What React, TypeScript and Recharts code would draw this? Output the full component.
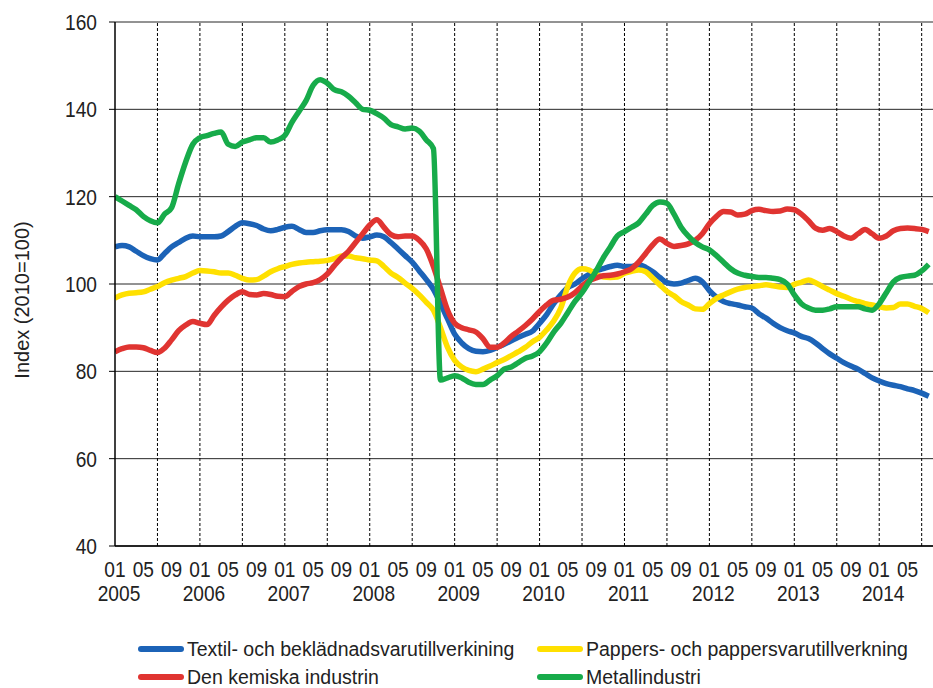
import React from "react";
import {
  LineChart,
  Line,
  XAxis,
  YAxis,
  CartesianGrid,
  ReferenceLine,
} from "recharts";

const FONT = "'Liberation Sans', Arial, sans-serif";

// month index 0 = 2005-01
const years = ["2005", "2006", "2007", "2008", "2009", "2010", "2011", "2012", "2013", "2014"];
const monthTicks = ["01", "05", "09"];

const textil = [
  108.5, 108.8, 108.5, 107.5, 106.5, 105.8, 105.5, 107, 108.5, 109.5, 110.5, 111,
  110.8, 110.8, 110.8, 111, 112, 113.2, 114, 113.8, 113.4, 112.6, 112.2, 112.5,
  113, 113.2, 112.5, 111.8, 111.8, 112.2, 112.4, 112.4, 112.4, 112, 111, 110.5,
  110.8, 111.2, 110.8, 109.5, 108, 106.5, 105, 103, 101, 98.8, 95.5, 92,
  88.5, 86.5, 85.2, 84.6, 84.5, 84.8, 85.5, 86.2, 87, 87.8, 88.5, 89.2,
  91, 93, 95.5, 97.5, 99.2, 100, 101.2, 102.2, 103, 103.5, 104, 104.3,
  104, 104, 104.4, 103.8, 102.8, 101.5, 100.3, 100, 100.2, 100.8, 101.3, 100.5,
  98.5, 97, 96, 95.5, 95.2, 94.8, 94.5, 93.2, 92.2, 91, 90, 89.3,
  88.8, 88, 87.5, 86.5, 85.2, 84, 83, 82, 81.2, 80.5, 79.5, 78.5,
  77.8, 77.2, 76.8, 76.5, 76, 75.6, 75, 74.3,
];

const pappers = [
  96.8, 97.5, 97.9, 98, 98.2, 98.8, 99.4, 100.3, 100.9, 101.3, 101.7, 102.5,
  103.1, 103, 102.8, 102.5, 102.5, 102, 101.3, 100.9, 101, 101.8, 102.8, 103.5,
  104, 104.5, 104.8, 105, 105.1, 105.2, 105.4, 105.8, 106.4, 106.4, 106, 105.8,
  105.5, 105.3, 104, 102.5, 101.5, 100.2, 99, 97.5, 95.8, 94, 90, 85.5,
  82.5, 81, 80.2, 79.9, 80.5, 81.2, 82, 82.7, 83.6, 84.5, 85.5, 86.8,
  87.8, 89.5, 91.5, 94.5, 99.5, 102.5, 103.5, 103.2, 102.2, 101.6, 101.5, 101.6,
  102.5, 102.9, 103.2, 102.8, 101.3, 99.8, 98.3, 97.3, 96, 95.2, 94.3, 94.2,
  95.5, 96.7, 97.5, 98.2, 98.8, 99.2, 99.4, 99.6, 99.8, 99.6, 99.3, 99.2,
  99.9, 100.4, 100.9, 100.3, 99.4, 98.6, 97.8, 97.2, 96.5, 96, 95.5, 95.2,
  94.8, 94.5, 94.6, 95.4, 95.4, 94.9, 94.4, 93.4,
];

const kemiska = [
  84.5, 85.2, 85.6, 85.6, 85.4, 84.8, 84.3, 85.3, 87.2, 89.3, 90.6, 91.4,
  91, 90.7, 92.8, 94.7, 96.3, 97.5, 98.2, 97.6, 97.5, 97.8, 97.6, 97.2,
  97.1, 98.3, 99.4, 100, 100.3, 101, 102.3, 104.2, 106, 107.5, 109.5, 111.5,
  113.5, 114.7, 113, 111.3, 110.8, 111, 111, 110, 108, 104, 99, 94,
  91, 90, 89.5, 89, 87.5, 85.5, 85.5, 86.5, 88, 89.2, 90.5, 92,
  93.7, 95.2, 96.3, 96.5, 97, 98, 99.5, 100.8, 101.4, 101.9, 102, 102.3,
  102.8, 103.5, 105, 107, 109, 110.3, 109.3, 108.6, 108.8, 109.2, 110, 111.5,
  113.8, 115.5, 116.6, 116.5, 115.8, 116, 116.8, 117.1, 116.8, 116.6, 116.7, 117.2,
  117, 116, 114.5, 112.8, 112.3, 112.7, 112, 111, 110.5, 111.5, 112.5, 111.5,
  110.5, 111, 112.2, 112.7, 112.8, 112.7, 112.5, 112,
];

const metall = [
  120, 119, 118, 117, 115.5, 114.5, 114, 116, 117.5, 123, 128, 132,
  133.5, 134, 134.5, 134.8, 132, 131.5, 132.5, 133, 133.5, 133.5, 132.5, 133,
  134, 137, 139.5, 142, 145.5, 146.8, 146, 144.5, 144, 143, 141.5, 140,
  139.8, 139, 138, 136.5, 136, 135.5, 135.7, 135, 133, 131, 78, 78.5,
  79, 78.5, 77.5, 77, 77, 78, 79, 80.5, 81, 82, 83, 83.5,
  84.5, 86.5, 89, 91, 93.5, 96, 98, 100.5, 103, 106, 108.5, 111,
  112, 113, 114, 116, 118, 118.8, 118.5, 116, 113, 111, 109.5, 108.5,
  107.8, 106.5, 105, 103.5, 102.5, 102, 101.7, 101.5, 101.5, 101.3, 101, 100,
  97.5, 95.5, 94.5, 94, 94, 94.3, 94.8, 94.8, 94.8, 94.8, 94.3, 94,
  95.5, 98, 100.5, 101.5, 101.8, 102, 103, 104.5,
];

const seriesNames = [
  "Textil- och beklädnadsvarutillverkining",
  "Pappers- och pappersvarutillverkning",
  "Den kemiska industrin",
  "Metallindustri",
];
const seriesColors = ["#1c63b7", "#ffe000", "#e03431", "#17ab4a"];

const yTicks = [40, 60, 80, 100, 120, 140, 160];

const data = textil.map((v, i) => ({
  m: i,
  textil: v,
  pappers: pappers[i],
  kemiska: kemiska[i],
  metall: metall[i],
}));

const labelTicks = data.filter((d) => d.m % 4 === 0).map((d) => d.m);
const halfYearLines = data.filter((d) => d.m > 0 && d.m % 6 === 0).map((d) => d.m);

// the original uses a narrow face; squeeze the regular one a bit
const SQUEEZE = 0.87;

function NarrowText({ x, y, anchor, size, children }: any) {
  return (
    <text
      transform={`translate(${x},${y}) scale(${SQUEEZE},1)`}
      textAnchor={anchor}
      fontSize={size}
      fill="#222"
      fontFamily={FONT}
    >
      {children}
    </text>
  );
}

function MonthTick(props: any) {
  const { x, y, payload } = props;
  const m = payload.value as number;
  const label = monthTicks[(m % 12) / 4];
  const yr = m % 12 === 0 ? years[m / 12] : null;
  return (
    <g>
      <NarrowText x={x} y={y + 23} anchor="middle" size={22}>
        {label}
      </NarrowText>
      {yr && (
        <NarrowText x={x + 4} y={y + 47} anchor="middle" size={22}>
          {yr}
        </NarrowText>
      )}
    </g>
  );
}

function ValueTick(props: any) {
  const { x, y, payload } = props;
  return (
    <NarrowText x={x} y={y + 8} anchor="end" size={22}>
      {payload.value}
    </NarrowText>
  );
}

function YTitle() {
  return (
    <text
      x={22}
      y={300}
      transform="rotate(-90, 22, 300)"
      textAnchor="middle"
      dominantBaseline="central"
      fontSize={20}
      fill="#222"
      fontFamily={FONT}
    >
      Index (2010=100)
    </text>
  );
}

const keys = ["textil", "pappers", "kemiska", "metall"];

export default function App() {
  return (
    <div style={{ position: "absolute", left: 0, top: 0, width: 933, height: 688, background: "#fff" }}>
      <LineChart
        width={933}
        height={620}
        data={data}
        margin={{ top: 22, right: 0, bottom: 0, left: 0 }}
      >
        <CartesianGrid vertical={false} stroke="#000" strokeOpacity={0.85} />
        {halfYearLines.map((m) => (
          <ReferenceLine key={m} x={m} stroke="#000" strokeDasharray="3 2" strokeWidth={1} />
        ))}
        <XAxis
          dataKey="m"
          type="number"
          domain={[0, 115.6]}
          ticks={labelTicks}
          tick={<MonthTick />}
          tickLine={false}
          axisLine={{ stroke: "#000", strokeWidth: 1.5 }}
          height={74}
          interval={0}
          allowDataOverflow
        />
        <YAxis
          type="number"
          domain={[40, 160]}
          ticks={yTicks}
          width={115}
          tickSize={6}
          tickMargin={12}
          tickLine={{ stroke: "#000" }}
          axisLine={{ stroke: "#000", strokeWidth: 1.5 }}
          tick={<ValueTick />}
          label={<YTitle />}
        />
        {keys.map((k, i) => (
          <Line
            key={k}
            dataKey={k}
            name={seriesNames[i]}
            type="monotone"
            stroke={seriesColors[i]}
            strokeWidth={5.5}
            dot={false}
            strokeLinejoin="round"
            isAnimationActive={false}
          />
        ))}
      </LineChart>
      {seriesNames.map((name, i) => {
        const col = i % 2;
        const row = Math.floor(i / 2);
        const left = col === 0 ? 138 : 537;
        const top = row === 0 ? 649 : 677;
        return (
          <div
            key={name}
            style={{
              position: "absolute",
              left,
              top: top - 12,
              height: 24,
              display: "flex",
              alignItems: "center",
              fontFamily: FONT,
              fontSize: 19.5,
              color: "#222",
              whiteSpace: "nowrap",
            }}
          >
            <span
              style={{
                display: "inline-block",
                width: 46,
                height: 6,
                borderRadius: 3,
                background: seriesColors[i],
                marginRight: 3,
              }}
            />
            {name}
          </div>
        );
      })}
    </div>
  );
}
